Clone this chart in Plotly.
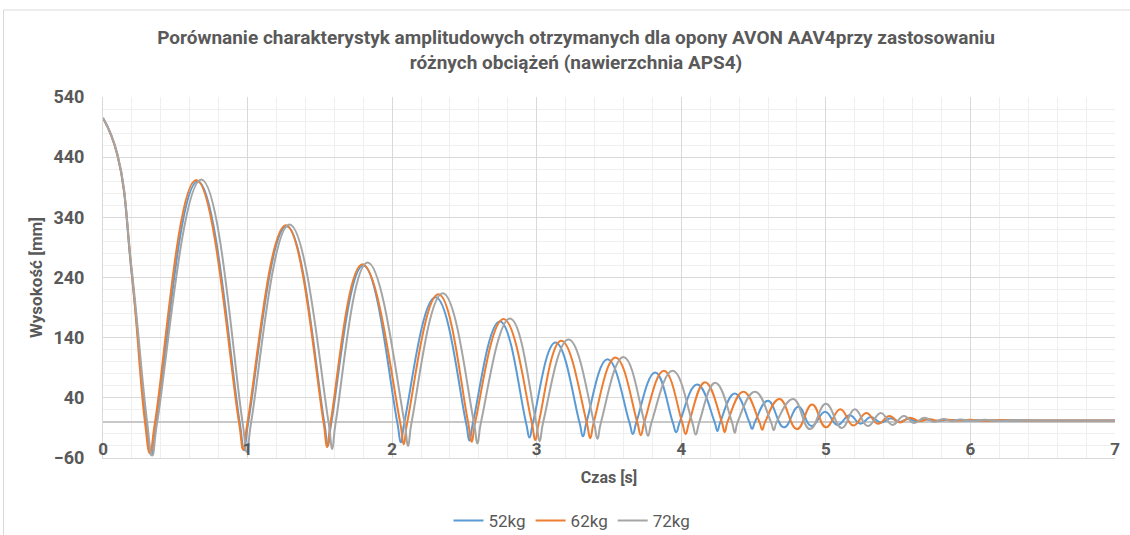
import plotly.graph_objects as go

# odczyt z wykresu: czas [s] i wysokość [mm] dla trzech obciążeń
t_52 = [0, 0.10, 0.20, 0.30, 0.335, 0.37,
        0.655, 0.945, 0.975, 1.005,
        1.27, 1.53, 1.555, 1.58,
        1.80, 2.035, 2.06, 2.085,
        2.30, 2.51, 2.535, 2.56,
        2.745, 2.925, 2.95, 2.975,
        3.13, 3.295, 3.32, 3.345,
        3.49, 3.64, 3.665, 3.69,
        3.82, 3.94, 3.965, 3.99,
        4.11, 4.23, 4.25, 4.27,
        4.37, 4.47, 4.49, 4.51,
        4.60, 4.71, 4.81, 4.90, 4.995, 5.08, 5.165, 5.24, 5.31, 5.38,
        5.45, 5.51, 5.57, 5.63, 5.69, 5.75, 5.85, 6.0, 7.0]
h_52 = [505, 443, 243, 0, -55, 0,
        400, 0, -47, 0,
        325, 0, -40, 0,
        260, 0, -34, 0,
        207, 0, -31, 0,
        167, 0, -26, 0,
        132, 0, -24, 0,
        104, 0, -20, 0,
        82, 0, -17, 0,
        62, 0, -15, 0,
        47, 0, -12, 0,
        35, -9, 25, -7, 17, -5, 11, -3, 8, -1,
        6, 0, 5, 1, 4, 2, 3, 2.5, 2.5]

t_62 = [0, 0.10, 0.20, 0.29, 0.325, 0.36,
        0.645, 0.94, 0.97, 1.0,
        1.265, 1.525, 1.55, 1.575,
        1.795, 2.055, 2.08, 2.105,
        2.32, 2.525, 2.55, 2.575,
        2.77, 2.965, 2.99, 3.015,
        3.17, 3.345, 3.37, 3.395,
        3.545, 3.695, 3.72, 3.745,
        3.88, 4.005, 4.03, 4.055,
        4.165, 4.28, 4.30, 4.32,
        4.43, 4.54, 4.56, 4.58,
        4.68, 4.80, 4.905, 5.00, 5.10, 5.19, 5.28, 5.36, 5.44, 5.51,
        5.58, 5.65, 5.71, 5.77, 5.83, 5.90, 6.0, 6.1, 6.2, 6.4, 7.0]
h_62 = [505, 443, 245, 0, -52, 0,
        402, 0, -46, 0,
        327, 0, -42, 0,
        262, 0, -37, 0,
        212, 0, -33, 0,
        171, 0, -30, 0,
        135, 0, -27, 0,
        107, 0, -22, 0,
        85, 0, -20, 0,
        66, 0, -17, 0,
        50, 0, -13, 0,
        38, -12, 29, -9, 21, -6, 15, -3, 10, -1,
        7, 1, 5, 2, 4, 2, 3.5, 2, 3, 2.5, 2.5]

t_72 = [0, 0.10, 0.20, 0.305, 0.34, 0.375,
        0.68, 0.965, 0.995, 1.025,
        1.29, 1.56, 1.585, 1.61,
        1.83, 2.085, 2.11, 2.135,
        2.35, 2.565, 2.59, 2.615,
        2.815, 2.995, 3.02, 3.045,
        3.22, 3.395, 3.42, 3.445,
        3.60, 3.745, 3.77, 3.795,
        3.94, 4.075, 4.10, 4.125,
        4.235, 4.35, 4.37, 4.39,
        4.51, 4.62, 4.64, 4.66,
        4.775, 4.89, 5.00, 5.11, 5.20, 5.29, 5.38, 5.46, 5.54, 5.61,
        5.68, 5.75, 5.81, 5.87, 5.93, 6.0, 6.1, 6.2, 6.3, 6.5, 7.0]
h_72 = [505, 445, 250, 0, -56, 0,
        403, 0, -50, 0,
        328, 0, -45, 0,
        265, 0, -40, 0,
        214, 0, -36, 0,
        172, 0, -32, 0,
        137, 0, -28, 0,
        108, 0, -23, 0,
        85, 0, -21, 0,
        65, 0, -18, 0,
        50, 0, -14, 0,
        38, -12, 30, -10, 21, -7, 15, -5, 10, -2,
        7, 0, 5, 1, 4, 2, 3.5, 2, 3, 2.5, 2.5]

series = [
    ("52kg", t_52, h_52, "#5B9BD5"),
    ("62kg", t_62, h_62, "#ED7D31"),
    ("72kg", t_72, h_72, "#A5A5A5"),
]

FONT = "Roboto, sans-serif"
GREY_TXT = "#595959"

fig = go.Figure()
for name, t, h, col in series:
    fig.add_trace(go.Scatter(x=t, y=h, mode="lines", name=name,
                             line=dict(color=col, width=2, shape="spline", smoothing=1.3)))

fig.update_layout(
    width=1130, height=535,
    paper_bgcolor="white", plot_bgcolor="white",
    margin=dict(l=103, r=10, t=97, b=77),
    font=dict(family=FONT, color=GREY_TXT),
    title=dict(
        text="<b>Porównanie charakterystyk amplitudowych otrzymanych dla opony AVON AAV4przy zastosowaniu"
             "<br>różnych obciążeń (nawierzchnia APS4)</b>",
        x=576 / 1130, xanchor="center", xref="container",
        y=1 - 44 / 535, yanchor="middle", yref="container",
        font=dict(size=19, color=GREY_TXT, family=FONT),
    ),
    showlegend=True,
    legend=dict(orientation="h", x=572 / 1130, xanchor="center", xref="container",
                y=1 - 521 / 535, yanchor="middle", yref="container",
                font=dict(size=17, color=GREY_TXT, family=FONT),
                itemwidth=30, traceorder="normal"),
)

fig.update_xaxes(
    range=[0, 7], dtick=1, tick0=0,
    showgrid=True, gridcolor="#d9d9d9", gridwidth=1,
    minor=dict(dtick=0.2, showgrid=True, gridcolor="#efefef", gridwidth=1),
    zeroline=False, showline=True, linecolor="#d9d9d9",
    ticks="", ticklabelposition="inside", ticklabeloverflow="allow",
    tickfont=dict(size=17, color=GREY_TXT, family=FONT), tickprefix="<b>", ticksuffix="</b>",
    title=dict(text="<b>Czas [s]</b>", font=dict(size=16, color=GREY_TXT, family=FONT), standoff=13),
)
fig.update_yaxes(
    range=[-60, 540], dtick=100, tick0=-60,
    showgrid=True, gridcolor="#d9d9d9", gridwidth=1,
    minor=dict(dtick=20, showgrid=True, gridcolor="#efefef", gridwidth=1),
    zeroline=True, zerolinecolor="#c8c8c8", zerolinewidth=2,
    showline=True, linecolor="#d9d9d9",
    ticks="", tickfont=dict(size=18, color=GREY_TXT, family=FONT),
    ticklabelstandoff=14,
    tickprefix="<b>", ticksuffix="</b>",
    title=dict(text="<b>Wysokość [mm]</b>", font=dict(size=17, color=GREY_TXT, family=FONT), standoff=6),
)

# ramka obszaru wykresu
fig.add_shape(type="rect", xref="paper", yref="paper",
              x0=(3 - 103) / 1017, x1=1.05, y0=-0.3, y1=(458 - 10) / 361,
              line=dict(color="#d9d9d9", width=1), fillcolor="rgba(0,0,0,0)", layer="below")

# bez domyślnego marginesu strony, żeby wykres zaczynał się w rogu okna
fig.write_html("out.html", config={"displayModeBar": False},
               post_script="document.body.style.margin='0';")
